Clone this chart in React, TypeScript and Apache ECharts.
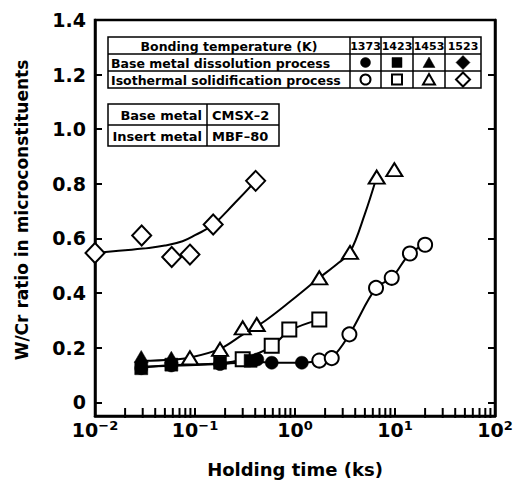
import React, { useEffect, useRef } from 'react';
import * as echarts from 'echarts';

// ---------- data ----------
const decadeExponents = ['−2', '−1', '0', '1', '2'];
const decadeValues = [0.01, 0.1, 1, 10, 100];
const minorTickValues = [
  0.02, 0.03, 0.04, 0.05, 0.06, 0.07, 0.08, 0.09,
  0.2, 0.3, 0.4, 0.5, 0.6, 0.7, 0.8, 0.9,
  2, 3, 4, 5, 6, 7, 8, 9,
  20, 30, 40, 50, 60, 70, 80, 90,
];
const Y_MIN = -0.05;
const Y_MAX = 1.4;

const temperatures = ['1373', '1423', '1453', '1523'];

// 1373 K
const circleDissolution: [number, number][] = [[0.029, 0.125], [0.058, 0.135], [0.178, 0.14], [0.42, 0.157], [0.585, 0.145], [1.17, 0.145]];
const circleIsothermal: [number, number][] = [[1.75, 0.153], [2.33, 0.162], [3.5, 0.249], [6.46, 0.419], [9.27, 0.456], [14.1, 0.545], [20, 0.577]];
const circleCurve: [number, number][] = [[0.029, 0.13], [0.178, 0.14], [0.42, 0.148], [0.585, 0.145], [1.17, 0.145], [1.75, 0.152], [2.33, 0.163], [3.5, 0.249], [6.46, 0.419], [9.27, 0.456], [14.1, 0.545], [20, 0.577]];

// 1423 K
const squareDissolution: [number, number][] = [[0.029, 0.125], [0.058, 0.138], [0.178, 0.145], [0.36, 0.152]];
const squareIsothermal: [number, number][] = [[0.3, 0.158], [0.585, 0.207], [0.877, 0.267], [1.75, 0.303]];
const squareCurve: [number, number][] = [[0.029, 0.128], [0.058, 0.136], [0.178, 0.143], [0.3, 0.158], [0.585, 0.205], [0.877, 0.262], [1.75, 0.303]];

// 1453 K
const triangleDissolution: [number, number][] = [[0.029, 0.168], [0.058, 0.165]];
const triangleIsothermal: [number, number][] = [[0.089, 0.163], [0.178, 0.194], [0.3, 0.273], [0.414, 0.285], [1.75, 0.456], [3.55, 0.549], [6.56, 0.825], [9.85, 0.852]];
const triangleCurve: [number, number][] = [[0.029, 0.152], [0.058, 0.156], [0.089, 0.164], [0.178, 0.196], [0.3, 0.248], [0.5, 0.298], [0.9, 0.37], [1.75, 0.456], [2.6, 0.505], [3.55, 0.55], [5, 0.69], [6.56, 0.825]];

// 1523 K
const diamondIsothermal: [number, number][] = [[0.01, 0.547], [0.0293, 0.611], [0.0585, 0.532], [0.089, 0.541], [0.152, 0.651], [0.404, 0.811]];
const diamondCurve: [number, number][] = [[0.01, 0.547], [0.02, 0.557], [0.03, 0.563], [0.05, 0.574], [0.075, 0.59], [0.1, 0.612], [0.152, 0.651], [0.25, 0.73], [0.404, 0.811]];

const FONT = '"DejaVu Sans", "Liberation Sans", sans-serif';

const openStyle = { color: '#fff', borderColor: '#000', borderWidth: 2, opacity: 1 };
const filledStyle = { color: '#000', borderColor: '#000', borderWidth: 0.5, opacity: 1 };

function lineSeries(data: [number, number][], smooth = 0.35) {
  return {
    type: 'line', data, smooth, symbol: 'none', z: 2, silent: true,
    lineStyle: { color: '#000', width: 2 },
  };
}
function scatterSeries(data: [number, number][], symbol: string, size: any, style: any, z: number) {
  return { type: 'scatter', data, symbol, symbolSize: size, itemStyle: style, z, silent: true };
}

function buildLegend(): any[] {
  const els: any[] = [];
  const stroke = { stroke: '#000', lineWidth: 1.5, fill: 'none' };
  const tf = (size: number) => `bold ${size}px ${FONT}`;
  // table 1
  const L = 108, R = 481, T = 37, r1 = 54, r2 = 71, B = 88;
  const cols = [350, 381, 413, 445, R];
  els.push({ type: 'rect', shape: { x: L, y: T, width: R - L, height: B - T }, style: { ...stroke, fill: '#fff' } });
  els.push({ type: 'line', shape: { x1: L, y1: r1, x2: R, y2: r1 }, style: stroke });
  els.push({ type: 'line', shape: { x1: L, y1: r2, x2: R, y2: r2 }, style: stroke });
  for (let i = 0; i < 4; i++) {
    els.push({ type: 'line', shape: { x1: cols[i], y1: T, x2: cols[i], y2: B }, style: stroke });
  }
  els.push({ type: 'text', x: (L + cols[0]) / 2, y: (T + r1) / 2 + 1, style: { text: 'Bonding temperature (K)', font: tf(12.5), fill: '#000', align: 'center', verticalAlign: 'middle' } });
  els.push({ type: 'text', x: L + 3, y: (r1 + r2) / 2 + 1, style: { text: 'Base metal dissolution process', font: tf(12.5), fill: '#000', align: 'left', verticalAlign: 'middle' } });
  els.push({ type: 'text', x: L + 3, y: (r2 + B) / 2 + 1, style: { text: 'Isothermal solidification process', font: tf(12.5), fill: '#000', align: 'left', verticalAlign: 'middle' } });
  for (let i = 0; i < 4; i++) {
    const cx = (cols[i] + cols[i + 1]) / 2;
    els.push({ type: 'text', x: cx, y: (T + r1) / 2 + 1, style: { text: temperatures[i], font: tf(11), fill: '#000', align: 'center', verticalAlign: 'middle' } });
    for (let row = 0; row < 2; row++) {
      const cy = row === 0 ? (r1 + r2) / 2 : (r2 + B) / 2;
      const st = row === 0 ? { fill: '#000', stroke: '#000', lineWidth: 0.5 } : { fill: '#fff', stroke: '#000', lineWidth: 2 };
      if (i === 0) els.push({ type: 'circle', shape: { cx, cy, r: 5 }, style: st });
      if (i === 1) els.push({ type: 'rect', shape: { x: cx - 5, y: cy - 5, width: 10, height: 10 }, style: st });
      if (i === 2) els.push({ type: 'polygon', shape: { points: [[cx, cy - 5.5], [cx + 6, cy + 5], [cx - 6, cy + 5]] }, style: st });
      if (i === 3) els.push({ type: 'polygon', shape: { points: [[cx, cy - 7], [cx + 7, cy], [cx, cy + 7], [cx - 7, cy]] }, style: st });
    }
  }
  // table 2
  const L2 = 108, M2 = 207, R2 = 279, T2 = 104, Mid2 = 125, B2 = 146;
  els.push({ type: 'rect', shape: { x: L2, y: T2, width: R2 - L2, height: B2 - T2 }, style: { ...stroke, fill: '#fff' } });
  els.push({ type: 'line', shape: { x1: L2, y1: Mid2, x2: R2, y2: Mid2 }, style: stroke });
  els.push({ type: 'line', shape: { x1: M2, y1: T2, x2: M2, y2: B2 }, style: stroke });
  els.push({ type: 'text', x: M2 - 5, y: (T2 + Mid2) / 2 + 1, style: { text: 'Base metal', font: tf(13), fill: '#000', align: 'right', verticalAlign: 'middle' } });
  els.push({ type: 'text', x: M2 - 5, y: (Mid2 + B2) / 2 + 1, style: { text: 'Insert metal', font: tf(13), fill: '#000', align: 'right', verticalAlign: 'middle' } });
  els.push({ type: 'text', x: M2 + 5, y: (T2 + Mid2) / 2 + 1, style: { text: 'CMSX–2', font: tf(13), fill: '#000', align: 'left', verticalAlign: 'middle' } });
  els.push({ type: 'text', x: M2 + 5, y: (Mid2 + B2) / 2 + 1, style: { text: 'MBF–80', font: tf(13), fill: '#000', align: 'left', verticalAlign: 'middle' } });
  // y axis title
  els.push({ type: 'text', x: 22, y: 210, rotation: Math.PI / 2, style: { text: 'W/Cr ratio in microconstituents', font: tf(17), fill: '#000', align: 'center', verticalAlign: 'middle' } });
  return els;
}

export default function App() {
  const ref = useRef<HTMLDivElement>(null);
  useEffect(() => {
    if (!ref.current) return;
    const chart = echarts.init(ref.current, undefined, { renderer: 'svg' });
    const yCommon = {
      type: 'value', min: Y_MIN, max: Y_MAX, splitNumber: 7,
      splitLine: { show: false },
      axisLine: { show: true, onZero: false, lineStyle: { color: '#000', width: 2.5 } },
      axisTick: { show: true, inside: true, length: 7, lineStyle: { color: '#000', width: 2 } },
    };
    chart.setOption({
      animation: false,
      backgroundColor: '#fff',
      textStyle: { fontFamily: FONT },
      grid: { left: 95, right: 21, top: 20, bottom: 74, show: true, borderColor: '#000', borderWidth: 2.5, backgroundColor: 'transparent' },
      xAxis: {
        type: 'log', logBase: 10, min: 0.01, max: 100,
        name: 'Holding time (ks)', nameLocation: 'middle', nameGap: 44,
        nameTextStyle: { fontFamily: FONT, fontWeight: 'bold', fontSize: 18, color: '#000' },
        splitLine: { show: false },
        axisLine: { show: true, onZero: false, lineStyle: { color: '#000', width: 2.5 } },
        axisTick: { show: true, inside: true, length: 8, lineStyle: { color: '#000', width: 2 } },
        minorTick: { show: false },
        axisLabel: {
          margin: 3,
          formatter: (v: number) => {
            let idx = 0;
            for (let i = 0; i < decadeValues.length; i++) {
              if (Math.abs(Math.log10(v) - Math.log10(decadeValues[i])) < 1e-6) idx = i;
            }
            return `{b|10}{s|${decadeExponents[idx]}}`;
          },
          rich: {
            b: { fontFamily: FONT, fontWeight: 'bold', fontSize: 19, lineHeight: 22, color: '#000' },
            s: { fontFamily: FONT, fontWeight: 'bold', fontSize: 13, lineHeight: 13, verticalAlign: 'top', color: '#000' },
          },
        },
      },
      yAxis: [
        {
          ...yCommon, position: 'left',
          axisLabel: {
            show: true, margin: 9, showMinLabel: false,
            fontFamily: FONT, fontWeight: 'bold', fontSize: 19, color: '#000',
            formatter: (v: number) => (Math.abs(v) < 1e-9 ? '0' : v < 0 ? '' : v.toFixed(1)),
          },
        },
        { ...yCommon, position: 'right', axisLabel: { show: false } },
      ],
      series: [
        lineSeries(circleCurve),
        lineSeries(squareCurve),
        lineSeries(triangleCurve),
        lineSeries(diamondCurve, 0.45),
        // minor ticks of the log axis, placed through the axis scale
        {
          type: 'scatter', silent: true, z: 6, clip: false,
          data: minorTickValues.map((v) => [v, Y_MIN]),
          symbol: 'rect', symbolSize: [2, 10], symbolOffset: [0, -3],
          itemStyle: { color: '#000', opacity: 1 },
        },
        scatterSeries(diamondIsothermal, 'diamond', [19, 20], openStyle, 3),
        scatterSeries(triangleIsothermal, 'triangle', [16, 13], openStyle, 3),
        scatterSeries(squareIsothermal, 'rect', 14, openStyle, 3),
        scatterSeries(circleIsothermal, 'circle', 14, openStyle, 3),
        scatterSeries(circleDissolution, 'circle', 13, filledStyle, 4),
        scatterSeries(triangleDissolution, 'triangle', [14, 12], filledStyle, 4),
        scatterSeries(squareDissolution, 'rect', 13, filledStyle, 5),
      ],
      graphic: { elements: buildLegend() },
    });
    return () => chart.dispose();
  }, []);
  return <div ref={ref} style={{ width: 516, height: 490, position: 'absolute', left: 0, top: 0 }} />;
}
